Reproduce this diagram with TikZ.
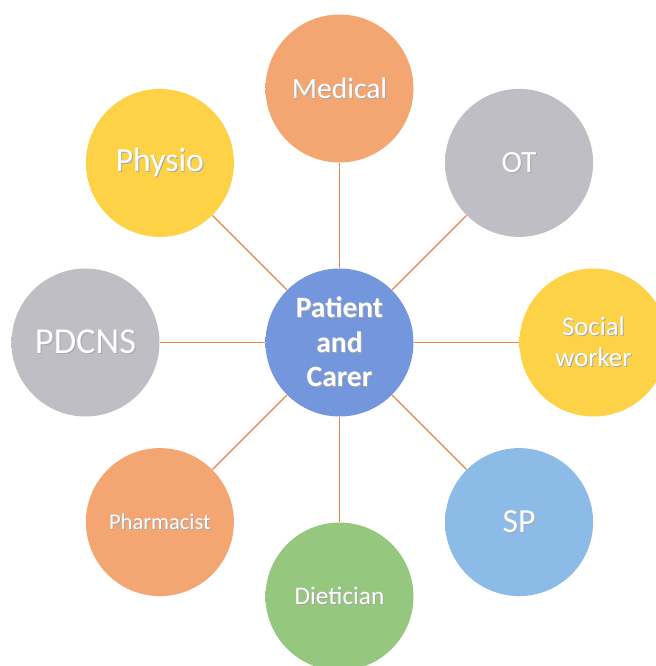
\documentclass[tikz,border=0pt]{standalone}
\usepackage{fontspec}
\setmainfont{Carlito}
\usetikzlibrary{positioning}
\definecolor{HubBlue}{HTML}{7396DC}
\definecolor{MedOrange}{HTML}{F4A672}
\definecolor{SoftGrey}{HTML}{BEBEC4}
\definecolor{SunYellow}{HTML}{FED246}
\definecolor{SkyBlue}{HTML}{8DBBE8}
\definecolor{LeafGreen}{HTML}{96C77E}
\definecolor{Spoke}{HTML}{E8844A}
% soft rim on every disc
\newcommand{\bevel}[1]{\pgfdeclareradialshading{bevel#1}{\pgfpoint{0bp}{0bp}}{color(0bp)=(#1); color(40bp)=(#1); color(47bp)=(#1!92!black); color(49.6bp)=(#1!78!black); color(50bp)=(#1!78!black)}}
\bevel{HubBlue}\bevel{MedOrange}\bevel{SoftGrey}\bevel{SunYellow}\bevel{SkyBlue}\bevel{LeafGreen}
\newcommand{\shd}[1]{\leavevmode\rlap{\kern0.7pt\raisebox{-0.7pt}{\color{black!35}#1}}#1}
\newcommand{\fs}[1]{\fontsize{#1}{1.17\dimexpr#1pt\relax}\selectfont}

\begin{document}
\begin{tikzpicture}[
  disc/.style={circle, minimum size=3.7cm, inner sep=0pt, text=white, align=center},
  spoke/.style={Spoke, line width=1pt}]
\useasboundingbox (-8.4875,-8.0875) rectangle (7.9125,8.5625);
\node[disc, shading=bevelHubBlue, font=\bfseries\fs{21}] (hub) at (0,0) {\shd{Patient}\\\shd{and}\\\shd{Carer}};
\node[disc, shading=bevelMedOrange, font=\fs{21}] (med) at (90:6.35) {\shd{Medical}};
\node[disc, shading=bevelSoftGrey, font=\fs{22}] (ot) at (45:6.35) {\shd{OT}};
\node[disc, shading=bevelSunYellow, font=\fs{19}] (social) at (0:6.35) {\shd{Social}\\\shd{worker}};
\node[disc, shading=bevelSkyBlue, font=\fs{24}] (sp) at (-45:6.35) {\shd{SP}};
\node[disc, shading=bevelLeafGreen, font=\fs{18}] (diet) at (-90:6.35) {\shd{Dietician}};
\node[disc, shading=bevelMedOrange, font=\fs{16}] (pharm) at (-135:6.35) {\shd{Pharmacist}};
\node[disc, shading=bevelSoftGrey, font=\fs{26}] (pdcns) at (180:6.35) {\shd{PDCNS}};
\node[disc, shading=bevelSunYellow, font=\fs{24}] (physio) at (135:6.35) {\shd{Physio}};
\draw[spoke] (hub) -- (med);
\draw[spoke] (hub) -- (ot);
\draw[spoke] (hub) -- (social);
\draw[spoke] (hub) -- (sp);
\draw[spoke] (hub) -- (diet);
\draw[spoke] (hub) -- (pharm);
\draw[spoke] (hub) -- (pdcns);
\draw[spoke] (hub) -- (physio);
\end{tikzpicture}
\end{document}
